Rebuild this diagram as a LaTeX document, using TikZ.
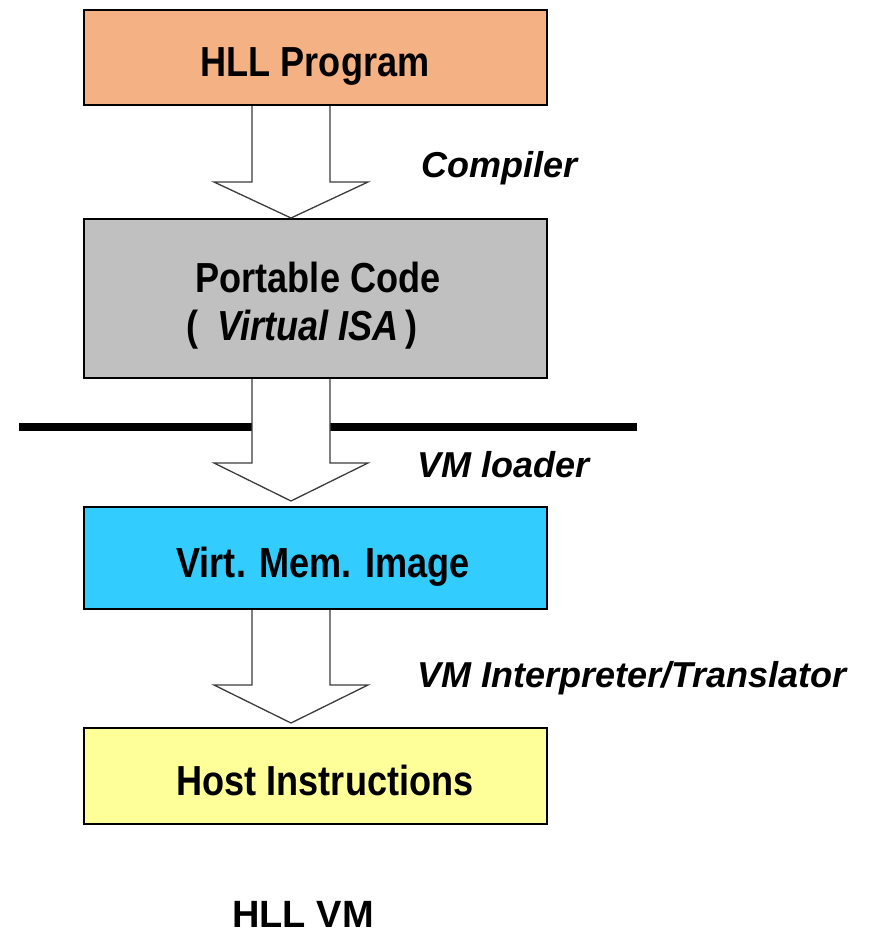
\documentclass[tikz,border=0pt]{standalone}
\usepackage{fontspec}
\setmainfont{Liberation Sans}
\newfontfamily\boxfont{Liberation Sans}[FakeStretch=0.86]
\usetikzlibrary{calc}

\definecolor{hllfill}{RGB}{244,177,131}
\definecolor{codefill}{RGB}{192,192,192}
\definecolor{memfill}{RGB}{51,204,255}
\definecolor{hostfill}{RGB}{255,255,153}
\definecolor{arrowedge}{RGB}{60,60,60}

% block arrow: from the bottom of node #1 down to tip coordinate #2, head length #3
\newcommand\blockarrow[3]{%
  \path[fatarrow]
    ($(#2 |- #1.south)+(-39,0)$) -- ($(#2)+(-39,-#3)$) -- ($(#2)+(-77,-#3)$)
    -- (#2) -- ($(#2)+(77,-#3)$) -- ($(#2)+(39,-#3)$) -- ($(#2 |- #1.south)+(39,0)$);
}

\begin{document}
\begin{tikzpicture}[x=1pt,y=-1pt,
  stagebox/.style={rectangle, draw=black, line width=2.4pt, inner sep=0pt,
    minimum width=463pt},
  boxtext/.style={inner sep=0pt, anchor=base, font=\boxfont\bfseries\fontsize{42}{48}\selectfont},
  steplabel/.style={inner sep=0pt, anchor=base west, font=\bfseries\itshape\fontsize{36}{42}\selectfont},
  fatarrow/.style={fill=white, draw=arrowedge, line width=1.3pt, line join=miter},
  divider/.style={line width=8pt, draw=black}
]
\useasboundingbox (0,0) rectangle (871,937);

% stages
\node[stagebox, fill=hllfill,  minimum height=95pt]  (hll)  at (315.5,57.5) {};
\node[stagebox, fill=codefill, minimum height=159pt] (code) at (315.5,298.5) {};
\node[stagebox, fill=memfill,  minimum height=102pt] (mem)  at (315.5,558) {};
\node[stagebox, fill=hostfill, minimum height=96pt]  (host) at (315.5,776) {};

\node[boxtext] (hlltxt)  at (315,76)  {HLL Program};
\node[boxtext] (codetxt) at (318,292) {Portable Code};
\node[boxtext] (isatxt)  at (302,340) {(\hspace{0.45em}\textit{Virtual ISA}\hspace{0.15em})};
\node[boxtext] (memtxt)  at (323,577) {Virt. Mem. Image};
\node[boxtext] (hosttxt) at (325,795) {Host Instructions};

% boundary between portable code and the VM
\coordinate (divl) at (19,427);
\coordinate (divr) at (637,427);
\draw[divider] (divl) -- (divr);

% transformation arrows
\coordinate (tip1) at (291,218);
\coordinate (tip2) at (291,501);
\coordinate (tip3) at (291,723);
\blockarrow{hll}{tip1}{36}
\blockarrow{code}{tip2}{38}
\blockarrow{mem}{tip3}{38}

\node[steplabel] (compiler) at (421,177) {Compiler};
\node[steplabel] (loader)   at (417,477) {VM loader};
\node[steplabel] (interp)   at (417,687) {VM Interpreter/Translator};

\node[inner sep=0pt, anchor=base, font=\bfseries\fontsize{38}{44}\selectfont] (title) at (303,927) {HLL VM};
\end{tikzpicture}
\end{document}
